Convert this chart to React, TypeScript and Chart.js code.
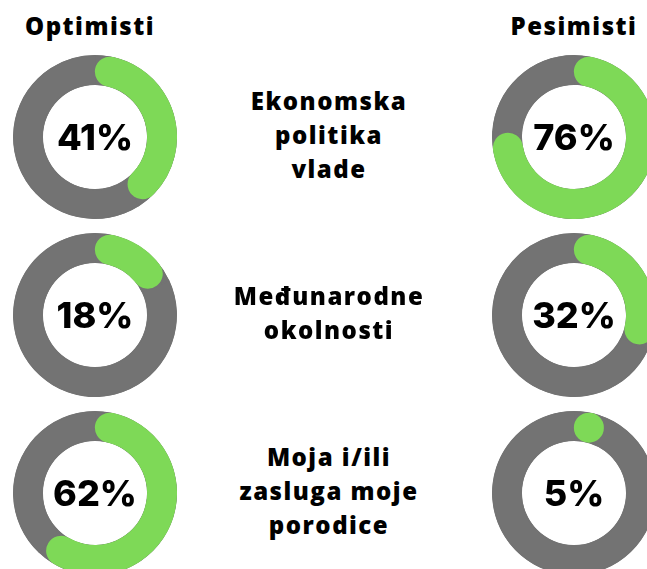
import React, { useEffect, useRef } from "react";
import { Chart, registerables } from "chart.js";

Chart.register(...registerables);

const columnTitles = ["Optimisti", "Pesimisti"];
const rowLabels = [
  ["Ekonomska", "politika", "vlade"],
  ["Međunarodne", "okolnosti"],
  ["Moja i/ili", "zasluga moje", "porodice"],
];
const optimisti = [41, 18, 62];
const pesimisti = [76, 32, 5];

const GREEN = "#7ed957";
const GRAY = "#737373";
const FONT = "Inter, 'Open Sans', sans-serif";
const TEXT_FONT = "'Open Sans', Inter, sans-serif";

const SIZE = 164;
const CUTOUT = 52;
const ROW_Y = [137, 315, 493];
const COL_X = [95, 574];
const MID_X = 329;
const LINE_H = 34;

const roundArcPlugin = {
  id: "roundArc",
  afterDatasetsDraw(chart: any) {
    const meta = chart.getDatasetMeta(0);
    const arc = meta.data[0];
    if (!arc) return;
    const { x, y, startAngle, endAngle, innerRadius, outerRadius } = arc.getProps(
      ["x", "y", "startAngle", "endAngle", "innerRadius", "outerRadius"],
      true
    );
    const ctx = chart.ctx;
    const thickness = outerRadius - innerRadius;
    const r = (outerRadius + innerRadius) / 2;
    const cap = thickness / 2 / r;
    const a0 = startAngle + cap;
    const a1 = endAngle - cap;
    ctx.save();
    ctx.fillStyle = GREEN;
    ctx.strokeStyle = GREEN;
    if (a1 <= a0) {
      ctx.beginPath();
      ctx.arc(x + r * Math.cos(a0), y + r * Math.sin(a0), thickness / 2, 0, Math.PI * 2);
      ctx.fill();
    } else {
      ctx.lineWidth = thickness;
      ctx.lineCap = "round";
      ctx.beginPath();
      ctx.arc(x, y, r, a0, a1);
      ctx.stroke();
    }
    ctx.restore();
  },
};

function Donut({ value, cx, cy }: { value: number; cx: number; cy: number }) {
  const ref = useRef<HTMLCanvasElement | null>(null);
  useEffect(() => {
    if (!ref.current) return;
    const chart = new Chart(ref.current, {
      type: "doughnut",
      data: {
        labels: ["da", "ostalo"],
        datasets: [
          {
            data: [value, 100 - value],
            backgroundColor: [GRAY, GRAY],
            borderColor: GRAY,
            borderWidth: 1,
            borderAlign: "inner",
          },
        ],
      },
      options: {
        responsive: false,
        animation: false,
        cutout: CUTOUT,
        layout: { padding: 0 },
        plugins: { legend: { display: false }, tooltip: { enabled: false } },
        events: [],
      },
      plugins: [roundArcPlugin],
    } as any);
    return () => chart.destroy();
  }, [value]);
  return (
    <>
      <canvas
        ref={ref}
        width={SIZE}
        height={SIZE}
        style={{ position: "absolute", left: cx - SIZE / 2, top: cy - SIZE / 2, width: SIZE, height: SIZE }}
      />
      <div
        style={{
          position: "absolute",
          left: cx - 60,
          top: cy - 25,
          width: 120,
          height: 50,
          lineHeight: "50px",
          textAlign: "center",
          fontFamily: FONT,
          fontWeight: 800,
          fontSize: 36,
          color: "#000",
        }}
      >
        {value}%
      </div>
    </>
  );
}

export default function App() {
  return (
    <div
      style={{
        position: "fixed",
        left: 0,
        top: 0,
        width: 647,
        height: 569,
        overflow: "hidden",
        background: "#fff",
      }}
    >
      {columnTitles.map((t, i) => (
        <div
          key={t}
          style={{
            position: "absolute",
            left: (i === 0 ? 90 : 574) - 100,
            top: 9,
            width: 200,
            textAlign: "center",
            fontFamily: TEXT_FONT,
            fontWeight: 800,
            fontSize: 24,
            letterSpacing: 1.5,
            lineHeight: "34px",
            color: "#000",
          }}
        >
          {t}
        </div>
      ))}
      {ROW_Y.map((cy, r) => (
        <React.Fragment key={r}>
          <Donut value={optimisti[r]} cx={COL_X[0]} cy={cy} />
          <Donut value={pesimisti[r]} cx={COL_X[1]} cy={cy} />
          <div
            style={{
              position: "absolute",
              left: MID_X - 120,
              top: cy - (rowLabels[r].length * LINE_H) / 2 - 2,
              width: 240,
              textAlign: "center",
              fontFamily: TEXT_FONT,
              fontWeight: 800,
              fontSize: 24,
              letterSpacing: 1.5,
              lineHeight: `${LINE_H}px`,
              color: "#000",
            }}
          >
            {rowLabels[r].map((l) => (
              <div key={l}>{l}</div>
            ))}
          </div>
        </React.Fragment>
      ))}
    </div>
  );
}
